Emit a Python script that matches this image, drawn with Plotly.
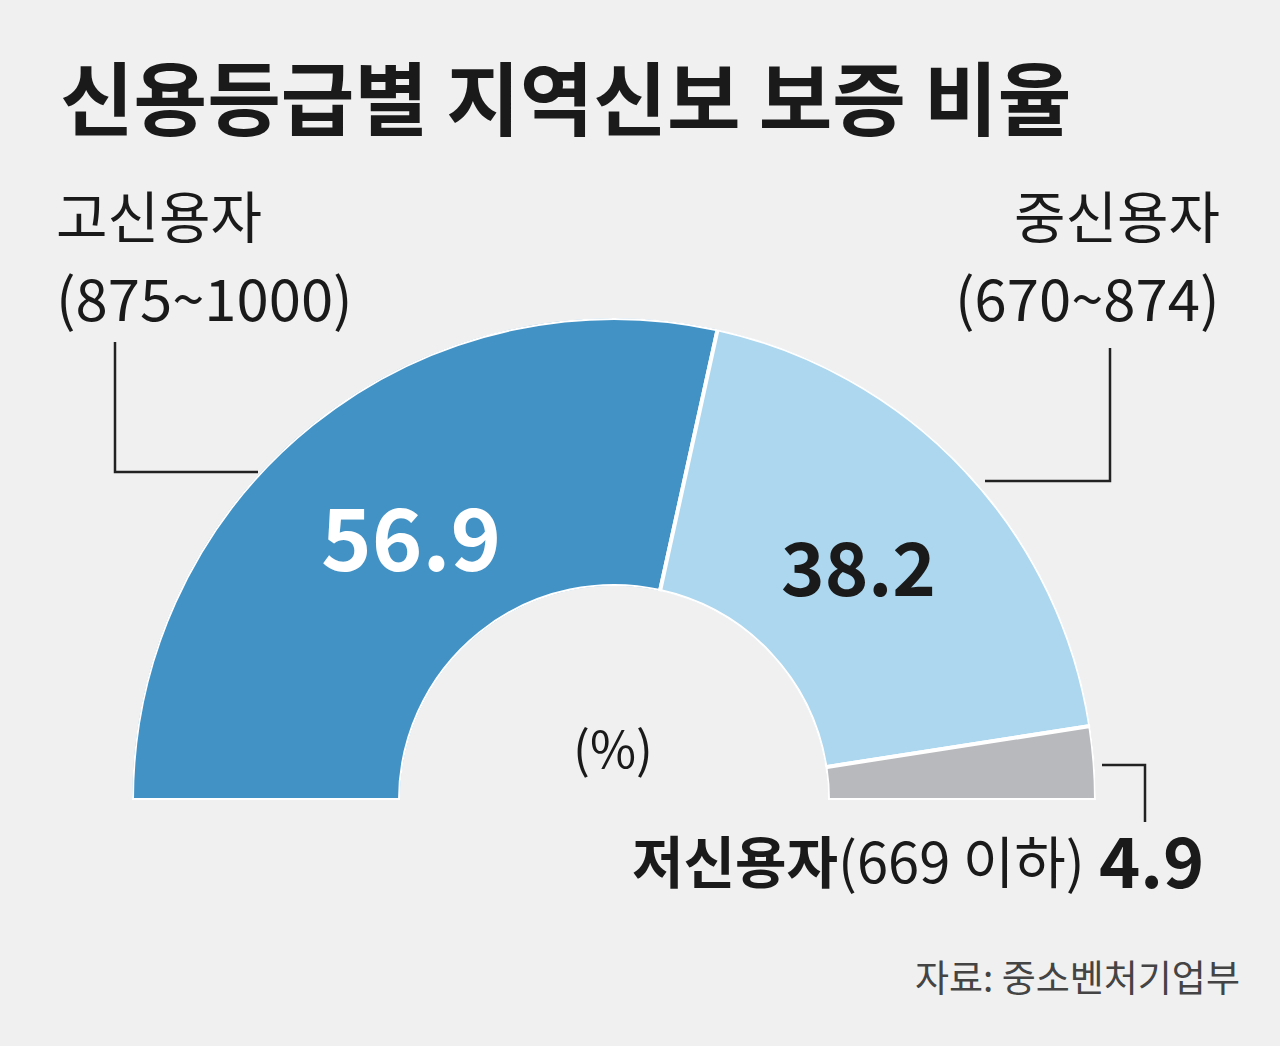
import plotly.graph_objects as go

W, H = 1280, 1046

title = "신용등급별 지역신보 보증 비율"
groups = ["고신용자", "중신용자", "저신용자"]
ranges = ["(875~1000)", "(670~874)", "(669 이하)"]
shares = [56.9, 38.2, 4.9]
colors = ["#4292c6", "#acd7ee", "#b8b9bd"]
source = "자료: 중소벤처기업부"

FONT = "Noto Sans CJK KR, sans-serif"
BG = "#f0f0f0"


def px(x, y):
    return x / W, 1 - y / H


# angle of each slice along the half circle
total = sum(shares)
widths = [v / total * 180 for v in shares]
centers = []
acc = 0
for w in widths:
    centers.append(acc + w / 2)
    acc += w

fig = go.Figure()
fig.add_trace(go.Barpolar(
    r=[1] * len(shares),
    theta=centers,
    width=widths,
    marker=dict(color=colors, line=dict(color="white", width=4)),
    hoverinfo="skip",
))

fig.update_layout(
    width=W, height=H,
    margin=dict(l=0, r=0, t=0, b=0),
    paper_bgcolor=BG,
    plot_bgcolor=BG,
    showlegend=False,
    font=dict(family=FONT, color="#1a1a1a"),
    polar=dict(
        domain=dict(x=[132 / W, 1096 / W], y=[1 - 800 / H, 1 - 318 / H]),
        sector=[0, 180],
        hole=0.444,
        bgcolor=BG,
        angularaxis=dict(direction="clockwise", rotation=180, visible=False),
        radialaxis=dict(range=[0, 1], visible=False),
    ),
)


def text(x, y, s, size, anchor="left", color="#1a1a1a"):
    ax, ay = px(x, y)
    fig.add_annotation(x=ax, y=ay, xref="paper", yref="paper", text=s,
                       showarrow=False, xanchor=anchor, yanchor="middle",
                       font=dict(size=size, color=color, family=FONT))


text(58, 94, "<b>" + title + "</b>", 80)
text(54, 214, groups[0], 56)
text(54, 296, ranges[0], 58)
text(1222, 214, groups[1], 56, anchor="right")
text(1222, 296, ranges[1], 58, anchor="right")
text(630, 858, "<b>" + groups[2] + "</b>" + ranges[2], 56)
text(1206, 857, "<b>%.1f</b>" % shares[2], 70, anchor="right")
text(411, 533, "<b>%.1f</b>" % shares[0], 86, anchor="center", color="white")
text(858, 563, "<b>%.1f</b>" % shares[1], 74, anchor="center")
text(613, 746, "(%)", 50, anchor="center")
text(1242, 976, source, 37, anchor="right", color="#444444")


def leader(points):
    path = "M " + " L ".join("%f,%f" % px(x, y) for x, y in points)
    fig.add_shape(type="path", path=path, xref="paper", yref="paper",
                  line=dict(color="#222222", width=2.5))


leader([(115, 342), (115, 472), (258, 472)])
leader([(1110, 348), (1110, 481), (985, 481)])
leader([(1102, 765), (1145, 765), (1145, 822)])

fig.write_html("out.html", config={"displayModeBar": False},
               post_script="document.body.style.margin='0';")
